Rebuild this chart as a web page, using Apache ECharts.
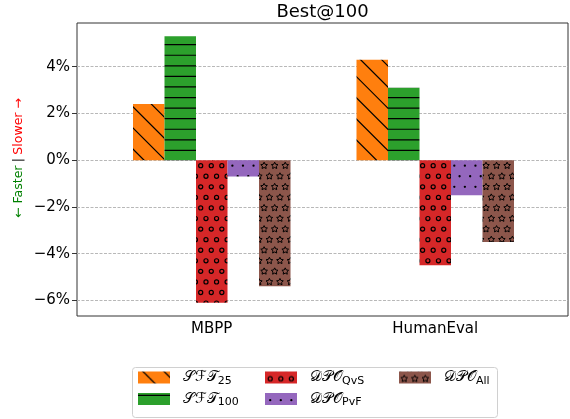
<!DOCTYPE html>
<html>
<head>
<meta charset="utf-8">
<script src="https://cdn.jsdelivr.net/npm/echarts@6/dist/echarts.min.js"></script>
<style>html,body{margin:0;padding:0;background:#fff}#c{width:570px;height:419px}</style>
</head>
<body>
<div id="c"></div>
<script>
// ---- data ----
const categories = ['MBPP', 'HumanEval'];
const seriesNames = ['SFT25', 'SFT100', 'DPO_QvS', 'DPO_PvF', 'DPO_All'];
const sft25 = [2.4, 4.3];
const sft100 = [5.3, 3.1];
const dpoQvS = [-6.1, -4.5];
const dpoPvF = [-0.7, -1.5];
const dpoAll = [-5.4, -3.5];
const yTicks = [-6, -4, -2, 0, 2, 4];
const titleText = 'Best@100';

// ---- hatch patterns ----
const T = 317, P = T / 30;
function makePattern(bg, draw) {
  const cv = document.createElement('canvas');
  cv.width = T; cv.height = T;
  const ctx = cv.getContext('2d');
  ctx.fillStyle = bg; ctx.fillRect(0, 0, T, T);
  ctx.strokeStyle = '#000'; ctx.fillStyle = '#000';
  draw(ctx);
  return { image: cv, repeat: 'repeat' };
}
function diagHatch(ctx) {
  ctx.lineWidth = 1.2;
  const c = 5;
  for (let d = c - T - 4 * P; d < T + 4 * P; d += 2 * P) {
    ctx.beginPath(); ctx.moveTo(d - 10, -10); ctx.lineTo(d + T + 10, T + 10); ctx.stroke();
  }
}
function horizHatch(ctx) {
  ctx.lineWidth = 1.2;
  const g = 44.7 - 4 * P;
  for (let k = -1; k <= 31; k++) {
    const y = g + k * P;
    ctx.beginPath(); ctx.moveTo(0, y); ctx.lineTo(T, y); ctx.stroke();
  }
}
const xA0 = 200.7 - 19 * P, yA0 = 165.7 - 7 * 2 * P;
function shapes(ctx, fn) {
  for (let r = -2; r <= 31; r++) {
    const y = yA0 + r * P;
    const off = (((r % 2) + 2) % 2) ? P / 2 : 0;
    for (let c = -2; c <= 31; c++) {
      fn(ctx, xA0 + c * P + off, y);
    }
  }
}
function circle(ctx, x, y) { ctx.lineWidth = 1.2; ctx.beginPath(); ctx.arc(x, y, 2.05, 0, Math.PI * 2); ctx.stroke(); }
function dot(ctx, x, y) { ctx.beginPath(); ctx.arc(x, y, 1.15, 0, Math.PI * 2); ctx.fill(); }
function star(ctx, x, y) {
  ctx.lineWidth = 1; ctx.beginPath();
  const R = 3.5, r = 1.75;
  for (let i = 0; i < 10; i++) {
    const a = -Math.PI / 2 + i * Math.PI / 5;
    const rr = i % 2 ? r : R;
    const px = x + rr * Math.cos(a), py = y + rr * Math.sin(a);
    if (i === 0) ctx.moveTo(px, py); else ctx.lineTo(px, py);
  }
  ctx.closePath(); ctx.stroke();
}
const patterns = [
  makePattern('#ff7f0e', diagHatch),
  makePattern('#2ca02c', horizHatch),
  makePattern('#d62728', ctx => shapes(ctx, circle)),
  makePattern('#9467bd', ctx => shapes(ctx, dot)),
  makePattern('#8c564b', ctx => shapes(ctx, star))
];
const seriesData = [sft25, sft100, dpoQvS, dpoPvF, dpoAll];

const legendLabels = {
  'SFT25': '{m|𝒮ℱ𝒯}{s|25}',
  'SFT100': '{m|𝒮ℱ𝒯}{s|100}',
  'DPO_QvS': '{m|𝒟𝒫𝒪}{s|QvS}',
  'DPO_PvF': '{m|𝒟𝒫𝒪}{s|PvF}',
  'DPO_All': '{m|𝒟𝒫𝒪}{s|All}'
};
const FONT = 'DejaVu Sans';
const yMin = -6.67, yMax = 5.87;

function legendCfg(data, left) {
  return {
    data: data, orient: 'vertical', left: left, top: 370, padding: 0,
    itemWidth: 32, itemHeight: 12, itemGap: 5, icon: 'rect',
    formatter: n => legendLabels[n],
    textStyle: {
      color: '#000', padding: [0, 0, 0, 8],
      rich: {
        m: { fontFamily: FONT, fontSize: 15, lineHeight: 18, verticalAlign: 'middle', color: '#000' },
        s: { fontFamily: FONT, fontSize: 11, lineHeight: 11, verticalAlign: 'bottom', color: '#000' }
      }
    }
  };
}

const chart = echarts.init(document.getElementById('c'), null, { renderer: 'canvas' });
const option = {
  animation: false,
  backgroundColor: '#fff',
  textStyle: { fontFamily: FONT },
  grid: [
    { left: 77, right: 2, top: 23, bottom: 103, show: true, borderColor: '#333', borderWidth: 1, backgroundColor: 'transparent' },
    { left: 100, width: 447, top: 23, bottom: 103 }
  ],
  xAxis: [
    { type: 'value', gridIndex: 0, min: 0, max: 1, show: false },
    {
      type: 'category', gridIndex: 1, data: categories,
      axisLine: { show: false },
      axisTick: { show: true, alignWithLabel: true, length: 3, lineStyle: { color: '#333' } },
      axisLabel: { color: '#000', fontSize: 15, fontFamily: FONT, margin: 6 }
    }
  ],
  yAxis: [
    {
      type: 'value', gridIndex: 0, min: yMin, max: yMax,
      axisLine: { show: false },
      axisTick: { show: true, length: 5, customValues: yTicks, lineStyle: { color: '#333' } },
      axisLabel: { customValues: yTicks, color: '#000', fontSize: 15, fontFamily: FONT, margin: 7,
        formatter: v => (v < 0 ? '\u2212' : '') + Math.abs(v) + '%' },
      splitLine: { show: true, lineStyle: { color: '#b8b8b8', type: [3, 1.5], width: 1 } }
    },
    { type: 'value', gridIndex: 1, min: yMin, max: yMax, show: false, splitLine: { show: false } }
  ],
  legend: [
    legendCfg(['SFT25', 'SFT100'], 138),
    legendCfg(['DPO_QvS', 'DPO_PvF'], 265),
    legendCfg(['DPO_All'], 399)
  ],
  graphic: [
    { type: 'rect', left: 132, top: 367, shape: { width: 365, height: 50, r: 3 }, style: { fill: '#fff', stroke: '#d0d0d0', lineWidth: 1 }, z: -1 },
    { type: 'text', x: 322.5, y: 12, style: { text: titleText, font: '18px "DejaVu Sans"', fill: '#000', textAlign: 'center', textVerticalAlign: 'middle' } },
    { type: 'text', x: 19, y: 158, rotation: Math.PI / 2,
      style: { text: '{g|← Faster} {k|\u007c} {r|Slower →}', textAlign: 'center', textVerticalAlign: 'middle',
        rich: {
          g: { fill: 'green', fontSize: 12.5, fontFamily: FONT },
          k: { fill: '#000', fontSize: 12.5, fontFamily: FONT },
          r: { fill: 'red', fontSize: 12.5, fontFamily: FONT }
        } } }
  ],
  series: seriesNames.map((n, i) => ({
    name: n, type: 'bar', xAxisIndex: 1, yAxisIndex: 1,
    barWidth: 31.5, barGap: '0%',
    data: seriesData[i],
    itemStyle: { color: patterns[i] }
  }))
};
chart.setOption(option);
</script>
</body>
</html>
